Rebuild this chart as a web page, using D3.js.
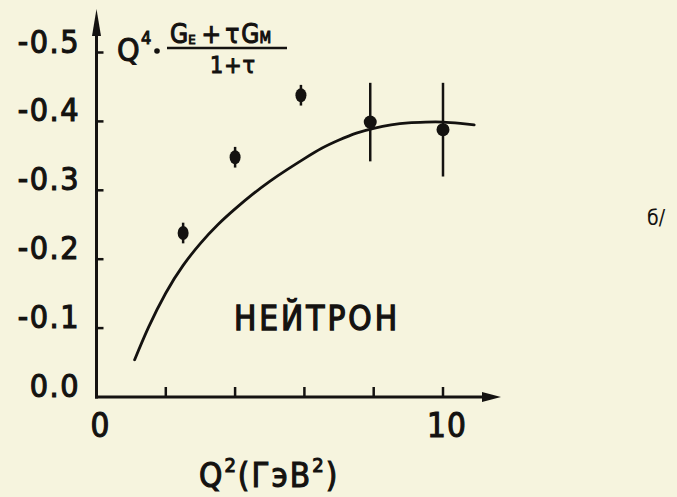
<!DOCTYPE html>
<html>
<head>
<meta charset="utf-8">
<script src="https://cdn.jsdelivr.net/npm/d3@7"></script>
<style>
  html, body { margin: 0; padding: 0; background: #f6f4de; }
  svg { display: block; }
  text { font-family: "DejaVu Sans Condensed", "DejaVu Sans", sans-serif; font-stretch: condensed; fill: #141210; }
</style>
</head>
<body>
<svg id="chart" width="677" height="497"></svg>
<script>
// Measured points: Q^2 in GeV^2
const q2 = [2.5, 4.0, 5.9, 7.9, 10.0];
// Q^4 (G_E + tau G_M) / (1 + tau) for the neutron
const values = [-0.238, -0.348, -0.438, -0.399, -0.388];
const errors = [0.015, 0.015, 0.015, 0.057, 0.068];

// Model curve
const curveQ2 = [1.1, 1.5, 2, 2.5, 3, 3.5, 4, 4.5, 5, 5.5, 6, 6.5, 7, 7.5, 8, 8.5, 9, 9.5, 10, 10.5, 10.9];
const curveVals = [-0.054, -0.101, -0.151, -0.191, -0.223, -0.250, -0.273, -0.294, -0.313, -0.330,
                   -0.346, -0.361, -0.373, -0.383, -0.390, -0.395, -0.398, -0.399, -0.399, -0.397, -0.395];

// Axis ticks and labels
const yTicks = [0, -0.1, -0.2, -0.3, -0.4, -0.5];
const yTickLabels = ["0.0", "-0.1", "-0.2", "-0.3", "-0.4", "-0.5"];
const xTicks = [2, 4, 6, 8, 10];
const xLabelValues = [0, 10];
const xLabelTexts = ["0", "10"];

const ink = "#141210";
const svg = d3.select("#chart");

const x = d3.scaleLinear().domain([0, 10]).range([96.5, 443]);
const y = d3.scaleLinear().domain([0, -0.5]).range([397, 52.5]);

// Axes with arrows
const axes = svg.append("g").attr("stroke", ink).attr("stroke-width", 3).attr("fill", "none");
axes.append("line").attr("x1", x(0)).attr("x2", x(0)).attr("y1", y(0) + 1.5).attr("y2", 22);
axes.append("line").attr("x1", x(0) - 1.5).attr("x2", 488).attr("y1", y(0)).attr("y2", y(0));
svg.append("path").attr("fill", ink)
  .attr("d", `M${x(0)},9 L${x(0) - 4.5},36 L${x(0) + 4.5},36 Z`);
svg.append("path").attr("fill", ink)
  .attr("d", `M501,${y(0)} L482,${y(0) - 5} L482,${y(0) + 5} Z`);

// Y ticks (to the right of the axis)
svg.append("g").selectAll("line").data(yTicks.slice(1)).join("line")
  .attr("x1", x(0)).attr("x2", x(0) + 7)
  .attr("y1", d => y(d)).attr("y2", d => y(d))
  .attr("stroke", ink).attr("stroke-width", 2.5);

// X ticks (upward)
svg.append("g").selectAll("line").data(xTicks).join("line")
  .attr("x1", d => x(d)).attr("x2", d => x(d))
  .attr("y1", y(0)).attr("y2", y(0) - 10)
  .attr("stroke", ink).attr("stroke-width", 2.5);

// Y tick labels
svg.append("g").selectAll("text").data(yTicks).join("text")
  .attr("x", 80).attr("y", d => y(d))
  .attr("text-anchor", "end")
  .attr("font-size", 32).attr("letter-spacing", 1.5)
  .attr("stroke", ink).attr("stroke-width", 1.1)
  .text((d, i) => yTickLabels[i]);

// X tick labels
svg.append("g").selectAll("text").data(xLabelValues).join("text")
  .attr("x", d => x(d) + 4).attr("y", 437)
  .attr("text-anchor", "middle")
  .attr("font-size", 33).attr("letter-spacing", 1)
  .attr("stroke", ink).attr("stroke-width", 1.1)
  .text((d, i) => xLabelTexts[i]);

// X axis title: Q^2 (GeV^2)
const xt = svg.append("text").attr("x", 199).attr("y", 487)
  .attr("font-size", 33).attr("letter-spacing", 2)
  .attr("stroke", ink).attr("stroke-width", 1.1);
xt.append("tspan").text("Q");
xt.append("tspan").attr("font-size", 20).attr("dy", -15).text("2");
xt.append("tspan").attr("dy", 15).text("(ГэВ");
xt.append("tspan").attr("font-size", 20).attr("dy", -15).text("2");
xt.append("tspan").attr("dy", 15).text(")");

// Y axis title: Q^4 · (G_E + τ G_M) / (1 + τ)
const yt = svg.append("g").attr("stroke", ink).attr("stroke-width", 1);
yt.append("text").attr("x", 117).attr("y", 61).attr("font-size", 32).text("Q");
yt.append("text").attr("x", 141).attr("y", 44).attr("font-size", 18).text("4");
svg.append("circle").attr("cx", 157).attr("cy", 51).attr("r", 2.8).attr("fill", ink);
const num = yt.append("text").attr("x", 170).attr("y", 43).attr("font-size", 26);
num.append("tspan").text("G");
num.append("tspan").attr("font-size", 13).attr("dy", 1).text("E");
num.append("tspan").attr("dy", -1).attr("dx", 6).text("+");
num.append("tspan").attr("dx", 4).text("τ");
num.append("tspan").attr("dx", 2).text("G");
num.append("tspan").attr("font-size", 15).text("M");
svg.append("line").attr("x1", 167).attr("x2", 287).attr("y1", 48).attr("y2", 48)
  .attr("stroke", ink).attr("stroke-width", 2.5);
const den = yt.append("text").attr("x", 210).attr("y", 73).attr("font-size", 23);
den.append("tspan").text("1");
den.append("tspan").attr("dx", 1).text("+");
den.append("tspan").attr("dx", 1).text("τ");

// Model curve
const line = d3.line().x(d => x(d[0])).y(d => y(d[1])).curve(d3.curveNatural);
svg.append("path")
  .datum(curveQ2.map((v, i) => [v, curveVals[i]]))
  .attr("d", line)
  .attr("fill", "none").attr("stroke", ink).attr("stroke-width", 2.8)
  .attr("stroke-linecap", "round");

// Error bars
svg.append("g").selectAll("line").data(q2).join("line")
  .attr("x1", d => x(d)).attr("x2", d => x(d))
  .attr("y1", (d, i) => y(values[i] - errors[i]))
  .attr("y2", (d, i) => y(values[i] + errors[i]))
  .attr("stroke", ink).attr("stroke-width", 2.5);

// Data markers
svg.append("g").selectAll("ellipse").data(q2).join("ellipse")
  .attr("cx", d => x(d)).attr("cy", (d, i) => y(values[i]))
  .attr("rx", (d, i) => errors[i] > 0.03 ? 6.5 : 5.5)
  .attr("ry", (d, i) => errors[i] > 0.03 ? 6.5 : 7)
  .attr("fill", ink);

// Label
svg.append("text").attr("x", 234).attr("y", 330)
  .attr("font-size", 33).attr("letter-spacing", 3)
  .attr("stroke", ink).attr("stroke-width", 1.3)
  .text("НЕЙТРОН");

// Panel mark
svg.append("text").attr("x", 647).attr("y", 225)
  .attr("font-family", "DejaVu Sans Mono").attr("font-size", 21)
  .text("б/");
</script>
</body>
</html>
